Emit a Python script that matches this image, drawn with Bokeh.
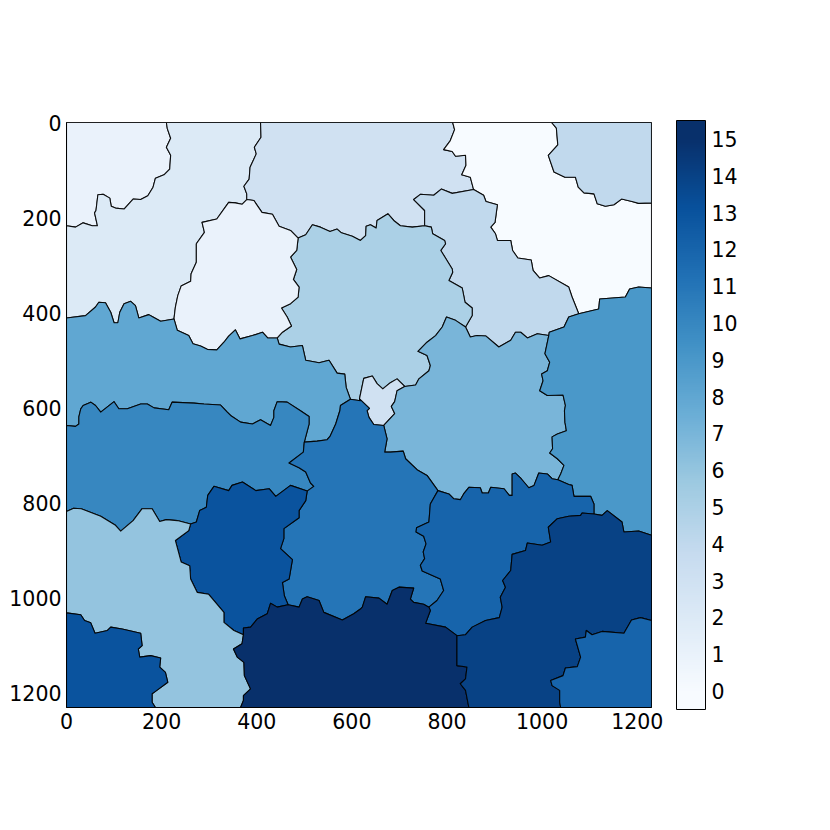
from bokeh.plotting import figure
from bokeh.models import ColumnDataSource, LinearColorMapper, ColorBar, FixedTicker, Range1d
from bokeh.embed import file_html
from bokeh.resources import INLINE

# Image extent and tick values (image pixels)
image_size = 1230
axis_ticks = [0, 200, 400, 600, 800, 1000, 1200]
label_ticks = list(range(16))

# Boundaries between labelled regions (image pixels)
a_1_2 = [(210,0),(212,13),(219,33),(210,52),(219,69),(217,98),(205,110),(187,117),(182,136),(171,154),(156,162),(140,161),(121,182),(103,180),(94,176),(91,159),(77,151),(66,152),(62,185),(59,190),(65,217),(54,217),(35,211),(19,220),(0,217)]
b_2_3 = [(408,0),(409,31),(395,52),(399,66),(386,94),(384,119),(373,134),(379,150),(379,162)]
c_2_1 = [(226,413),(229,388),(234,364),(241,344),(261,334),(262,318),(273,294),(273,255),(290,231),(285,210),(316,203),(341,168),(355,169),(369,172),(379,162)]
d_3_1 = [(379,162),(394,164),(411,189),(433,193),(447,218),(471,227),(487,243)]
e_1_5 = [(487,243),(484,269),(471,283),(484,309),(477,330),(489,346),(487,367),(471,381),(452,390),(464,409),(473,428),(454,441),(443,453)]
f_1_8 = [(226,413),(233,437),(257,448),(266,465),(282,470),(296,477),(316,478),(331,462),(341,449),(355,436),(365,455),(391,448),(412,441),(423,453),(443,453)]
g_5_3 = [(487,243),(503,236),(517,215),(534,220),(554,229),(569,224),(578,232),(601,239),(618,248),(629,238),(630,218),(639,215),(651,222),(653,206),(676,192),(688,206),(702,217),(727,220),(753,217)]
h_3_4 = [(753,217),(753,185),(730,162),(744,151),(772,153),(788,140),(811,149),(856,141)]
i_3_0 = [(812,0),(816,15),(807,38),(793,57),(811,61),(818,71),(839,69),(840,90),(831,110),(849,115),(856,141)]
j_0_4 = [(856,141),(877,153),(882,166),(906,173),(901,210),(892,220),(902,234),(906,248),(934,248),(938,269),(949,285),(977,289),(981,311),(995,327),(1014,322),(1056,346),(1063,367),(1077,402)]
k_0_4 = [(1020,0),(1030,12),(1033,47),(1013,69),(1025,104),(1048,115),(1070,115),(1076,136),(1088,148),(1109,150),(1116,171),(1133,176),(1151,173),(1167,161),(1189,166),(1203,170),(1230,169)]
l_0_9 = [(1077,402),(1119,392),(1121,371),(1175,367),(1184,350),(1203,346),(1230,348)]
right_edge_9 = [(1230,348),(1230,868)]
m_4_9 = [(1077,402),(1056,409),(1046,430),(1015,441),(1014,448)]
n_5_4 = [(753,217),(767,220),(770,234),(795,248),(797,255),(787,269),(800,290),(811,308),(812,315),(804,332),(832,348),(838,378),(853,390),(853,406),(839,430)]
o_4_7 = [(839,430),(849,451),(863,448),(882,449),(909,472),(934,458),(944,441),(955,441),(969,453),(990,444),(1014,448)]
p_7_9 = [(1014,448),(1006,486),(1016,504),(1011,522),(999,529),(1002,543),(995,564),(1011,574),(1044,573),(1049,595),(1047,606),(1048,630),(1051,648),(1032,655),(1021,661),(1022,686),(1016,695),(1032,707),(1046,721),(1039,739),(1033,751)]
q_7_12 = [(1033,751),(1021,749),(1011,739),(993,737),(983,763),(972,768),(956,749),(944,737),(937,739),(937,784),(931,784),(920,770),(892,767),(887,779),(874,779),(870,768),(846,767),(835,781),(828,793),(814,791),(804,781),(781,774)]
r_7_11 = [(781,774),(758,742),(737,730),(713,707),(708,691),(681,693),(669,693),(674,665),(667,637)]
s_3_7 = [(667,637),(690,612),(683,597),(690,587),(695,564),(711,555)]
t_5_7 = [(711,555),(734,552),(741,539),(762,522),(765,511),(758,490),(739,481),(758,462),(776,448),(790,430),(799,409),(818,416),(839,430)]
u_3_5 = [(711,555),(695,539),(681,547),(665,560),(653,549),(643,533),(625,538),(616,581)]
v_3_11 = [(616,581),(637,601),(632,606),(636,620),(646,635),(667,637)]
w_5_8 = [(443,453),(447,466),(471,472),(496,469),(503,500),(531,505),(552,500),(569,527),(585,529),(588,557),(597,582)]
y_5_11 = [(616,581),(618,585),(597,582)]
x_8_11 = [(597,582),(576,595),(575,605),(566,634),(554,660),(548,667),(527,670),(500,672)]
ap_2_8 = [(0,411),(40,406),(61,388),(68,378),(82,379),(93,399),(100,421),(108,421),(112,399),(121,381),(135,376),(145,385),(152,411),(173,404),(180,408),(198,418),(226,413)]
y_8_10 = [(0,637),(19,639),(26,634),(26,619),(30,602),(35,595),(51,588),(61,595),(72,609),(100,587),(110,602),(128,602),(156,592),(170,592),(184,600),(215,604),(222,588),(268,590),(289,592),(324,594),(338,609),(345,616),(366,630),(391,634),(408,625),(429,637),(436,620),(436,606),(443,587),(464,588),(492,606),(510,618),(510,634),(500,672)]
z_10_11 = [(500,672),(498,693),(468,716),(489,726),(503,735),(513,758),(520,765),(506,775)]
aa_10_13 = [(506,775),(471,763),(440,786),(426,770),(398,774),(370,756),(348,763),(341,774),(310,765),(297,784),(294,809),(280,816),(273,840),(261,844)]
ab_10_6 = [(261,844),(233,837),(210,835),(196,839),(180,812),(159,812),(140,837),(114,859),(103,847),(72,828),(31,812),(15,811),(0,818)]
ac_6_13 = [(261,844),(257,858),(229,879),(241,924),(259,932),(261,960),(275,988),(299,992),(331,1030),(331,1051),(352,1068),(372,1077)]
ad_13_11 = [(506,775),(503,795),(489,816),(489,831),(457,854),(457,875),(450,896),(475,919),(468,960),(454,967),(458,995),(466,1014)]
ae_13_15 = [(466,1014),(443,1019),(429,1011),(422,1033),(401,1044),(387,1061),(372,1063),(372,1077)]
af_6_15 = [(372,1077),(369,1096),(351,1107),(359,1124),(373,1135),(374,1163),(387,1191),(372,1205),(372,1215),(366,1230)]
ag_6_13 = [(0,1031),(30,1035),(38,1047),(51,1052),(60,1074),(86,1068),(93,1061),(117,1065),(156,1074),(159,1100),(151,1107),(154,1124),(177,1121),(198,1126),(196,1145),(208,1156),(213,1177),(187,1196),(180,1201),(180,1219),(187,1230)]
ah_11_15 = [(466,1014),(489,1019),(496,1002),(506,997),(531,1005),(541,1030),(580,1046),(604,1033),(618,1023),(622,1019),(629,997),(657,1000),(674,1013),(685,984),(699,977),(730,979),(723,1002),(730,1009),(751,1013),(762,1019)]
ai_15_12 = [(762,1019),(765,1026),(755,1053),(797,1061),(821,1079)]
aj_11_12 = [(781,774),(765,802),(762,840),(736,852),(735,861),(751,870),(756,886),(750,903),(753,917),(744,931),(748,943),(786,960),(793,984),(779,1005),(762,1019)]
ak_12_14 = [(821,1079),(839,1077),(853,1061),(881,1047),(910,1041),(916,1019),(912,998),(923,977),(917,963),(934,942),(937,908),(965,900),(969,884),(1000,889),(1018,882),(1013,851),(1032,833),(1056,828),(1081,826),(1084,821),(1109,823)]
al_12_9 = [(1033,751),(1056,761),(1063,763),(1067,786),(1102,786),(1109,802),(1109,823)]
am_9_14 = [(1109,823),(1126,826),(1137,816),(1168,840),(1172,861),(1203,859),(1230,868)]
an_14_12 = [(1230,1047),(1207,1041),(1188,1046),(1172,1074),(1126,1070),(1105,1077),(1093,1068),(1091,1082),(1070,1086),(1081,1124),(1074,1144),(1049,1147),(1044,1163),(1018,1173),(1021,1184),(1037,1194),(1037,1219),(1039,1230)]
ao_15_14 = [(821,1079),(821,1142),(842,1145),(839,1170),(828,1180),(839,1194),(846,1230)]

# Corners of the image, used to close regions at the frame
top_left = [(0,0)]
top_right = [(image_size,0)]
bottom_left = [(0,image_size)]
bottom_right = [(image_size,image_size)]

# label value of each region, and the boundaries that enclose it
regions = [
    (1, [a_1_2, top_left]),
    (2, [a_1_2, b_2_3, c_2_1, ap_2_8]),
    (3, [b_2_3, i_3_0, h_3_4, g_5_3, d_3_1]),
    (0, [i_3_0, k_0_4, l_0_9, j_0_4]),
    (4, [k_0_4, top_right]),
    (4, [h_3_4, j_0_4, m_4_9, o_4_7, n_5_4]),
    (5, [g_5_3, n_5_4, t_5_7, u_3_5, y_5_11, w_5_8, e_1_5]),
    (1, [c_2_1, d_3_1, e_1_5, f_1_8]),
    (8, [ap_2_8, f_1_8, w_5_8, x_8_11, y_8_10]),
    (3, [u_3_5, v_3_11, s_3_7]),
    (7, [t_5_7, o_4_7, p_7_9, q_7_12, r_7_11, s_3_7]),
    (9, [m_4_9, l_0_9, right_edge_9, am_9_14, al_12_9, p_7_9]),
    (10, [y_8_10, z_10_11, aa_10_13, ab_10_6]),
    (11, [x_8_11, z_10_11, ad_13_11, ah_11_15, aj_11_12, r_7_11, v_3_11, y_5_11]),
    (12, [q_7_12, al_12_9, ak_12_14, ai_15_12, aj_11_12]),
    (13, [aa_10_13, ad_13_11, ae_13_15, ac_6_13]),
    (6, [ab_10_6, ac_6_13, af_6_15, ag_6_13]),
    (13, [ag_6_13, bottom_left]),
    (15, [ah_11_15, ai_15_12, ao_15_14, af_6_15, ae_13_15]),
    (14, [ak_12_14, am_9_14, an_14_12, ao_15_14]),
    (12, [an_14_12, bottom_right]),
]


def chain(arcs):
    """Join boundaries end to end, flipping each one as needed."""
    first, second = arcs[0], arcs[1]
    ends = (second[0], second[-1])
    dist = lambda a, b: (a[0]-b[0])**2 + (a[1]-b[1])**2
    if min(dist(first[0], e) for e in ends) < min(dist(first[-1], e) for e in ends):
        first = first[::-1]
    pts = list(first)
    for arc in arcs[1:]:
        if dist(pts[-1], arc[-1]) < dist(pts[-1], arc[0]):
            arc = arc[::-1]
        pts += arc
    return pts


outlines = [chain(r[1]) for r in regions]
source = ColumnDataSource(dict(
    xs=[[q[0] for q in o] for o in outlines],
    ys=[[q[1] for q in o] for o in outlines],
    label=[r[0] for r in regions],
))

# matplotlib "Blues" colour map
nodes = ["#f7fbff", "#deebf7", "#c6dbef", "#9ecae1", "#6baed6", "#4292c6", "#2171b5", "#08519c", "#08306b"]
rgb = [tuple(int(n[i:i+2], 16) for i in (1, 3, 5)) for n in nodes]
palette = []
for i in range(256):
    t = i / 255 * 8
    k = min(int(t), 7)
    f = t - k
    palette.append("#%02x%02x%02x" % tuple(round(rgb[k][c] * (1-f) + rgb[k+1][c] * f) for c in range(3)))
mapper = LinearColorMapper(palette=palette, low=0, high=15)
bar_mapper = LinearColorMapper(palette=[palette[0]] * 8 + palette + [palette[-1]] * 8, low=-0.5, high=15.5)

p = figure(width=822, height=814, output_backend="svg", toolbar_location=None,
           x_range=Range1d(0, image_size), y_range=Range1d(image_size, 0),
           min_border_left=66, min_border_top=122, min_border_right=171, min_border_bottom=107)
p.background_fill_color = "white"
p.border_fill_color = "white"
p.grid.visible = False
p.outline_line_color = "black"
p.outline_line_width = 1

p.patches("xs", "ys", source=source, fill_color={"field": "label", "transform": mapper},
          line_color="#000000", line_width=1.1, line_alpha=0.9, line_join="round")

for ax in (p.xaxis[0], p.yaxis[0]):
    ax.ticker = FixedTicker(ticks=axis_ticks)
    ax.major_tick_line_color = None
    ax.minor_tick_line_color = None
    ax.major_tick_in = 0
    ax.major_tick_out = 0
    ax.axis_line_color = "black"
    ax.major_label_text_font = "DejaVu Sans"
    ax.major_label_text_font_size = "20.5px"
    ax.major_label_text_color = "black"
    ax.major_label_standoff = 5

bar = ColorBar(color_mapper=bar_mapper, ticker=FixedTicker(ticks=label_ticks), width=29, height=589,
               location=(610, -2), padding=0, major_tick_line_color=None, minor_tick_line_color=None,
               bar_line_color="black", bar_line_width=1, label_standoff=6,
               major_label_text_font="DejaVu Sans", major_label_text_font_size="20.5px",
               major_label_text_color="black", background_fill_alpha=0, border_line_color=None)
p.add_layout(bar, "center")

open("out.html", "w").write(file_html(p, INLINE))
